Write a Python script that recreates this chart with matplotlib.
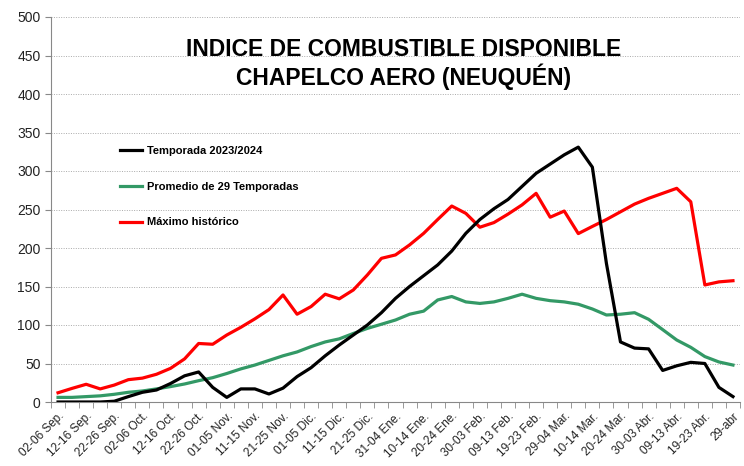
import numpy as np
import matplotlib
matplotlib.use("Agg")
import matplotlib.pyplot as plt

plt.rcParams['font.family'] = ['Liberation Sans', 'DejaVu Sans']

# Etiquetas del eje X (cada 2 péntadas)
etiquetas = ["02-06 Sep.", "12-16 Sep.", "22-26 Sep.", "02-06 Oct.", "12-16 Oct.",
             "22-26 Oct.", "01-05 Nov.", "11-15 Nov.", "21-25 Nov.", "01-05 Dic.",
             "11-15 Dic.", "21-25 Dic.", "31-04 Ene.", "10-14 Ene.", "20-24 Ene.",
             "30-03 Feb.", "09-13 Feb.", "19-23 Feb.", "29-04 Mar.", "10-14 Mar.",
             "20-24 Mar.", "30-03 Abr.", "09-13 Abr.", "19-23 Abr.", "29-abr"]

# Temporada 2023/2024
temporada = [0, 0, 0, 0, 1, 7, 12.6, 15.6, 24, 34, 39, 19, 6, 17, 17, 10.4, 18, 33,
             44.6, 60, 74, 87, 100, 116, 134.6, 150, 164, 178, 196, 219, 237, 251,
             263, 280, 297, 309, 321, 331, 305, 180, 78, 70, 69, 41, 47, 51.5, 50,
             19, 7]

# Promedio de 29 temporadas
promedio = [6, 6, 7, 8, 10, 12.6, 14.3, 17, 20, 23.4, 27.7, 31.6, 37, 43, 48, 54, 60,
            65, 72, 78, 82, 89, 95.6, 101, 106.5, 114, 118, 132.5, 137, 130, 128, 130,
            134.6, 140, 134.6, 131.6, 130, 127, 120.8, 113, 114, 116, 107.4, 94, 80.5,
            71, 59, 52, 48]

# Máximo histórico
maximo = [12, 17.7, 23, 17, 22, 29, 31, 36, 43.7, 56, 76, 75, 87, 97, 108, 120, 139,
          114, 124, 140, 134, 145.5, 165, 186.6, 191, 204, 219, 237, 254.5, 245, 227,
          233, 244, 256, 271, 240, 248, 218.7, 228, 237, 247, 257, 264.5, 271, 277.5,
          260, 152, 156, 157.5]

x = np.arange(len(temporada))

fig = plt.figure(figsize=(7.44, 4.66), dpi=100)
ax = fig.add_axes([51/744, 1 - 402/466, 689/744, 385/466])

ax.plot(x, temporada, color='black', lw=2.3, label='Temporada 2023/2024', zorder=3)
ax.plot(x, promedio, color='#339966', lw=2.3, label='Promedio de 29 Temporadas', zorder=2)
ax.plot(x, maximo, color='#ff0000', lw=2.3, label='Máximo histórico', zorder=2)

ax.set_xlim(-0.5, len(x) - 0.5)
ax.set_ylim(0, 500)
ax.set_yticks(np.arange(0, 501, 50))
ax.yaxis.grid(True, ls=(0, (1, 1.5)), color='#aaaaaa', lw=0.7)
ax.set_axisbelow(True)

ax.set_xticks(x[::2])
ax.set_xticklabels(etiquetas, rotation=45, ha='right', rotation_mode='anchor',
                   fontsize=8.5, color='#222222')
ax.set_xticks(np.arange(-0.5, len(x), 1), minor=True)
ax.tick_params(axis='x', which='major', length=0, pad=6)
ax.tick_params(axis='x', which='minor', length=4, color='#888888')
ax.tick_params(axis='y', length=4, color='#888888', labelsize=10, labelcolor='#222222')

for s in ['top', 'right']:
    ax.spines[s].set_visible(False)
for s in ['left', 'bottom']:
    ax.spines[s].set_color('#888888')

leg = ax.legend(loc='upper left', bbox_to_anchor=(0.085, 0.69), frameon=False,
                handlelength=2.0, handletextpad=0.5, labelspacing=2.3,
                prop={'weight': 'bold', 'size': 8})

fig.text(404/744, 1 - 64/466, "INDICE DE COMBUSTIBLE DISPONIBLE\nCHAPELCO AERO (NEUQUÉN)",
         ha='center', va='center', fontsize=16.5, fontweight='bold', linespacing=1.15)

fig.savefig('out.png', dpi=100)
